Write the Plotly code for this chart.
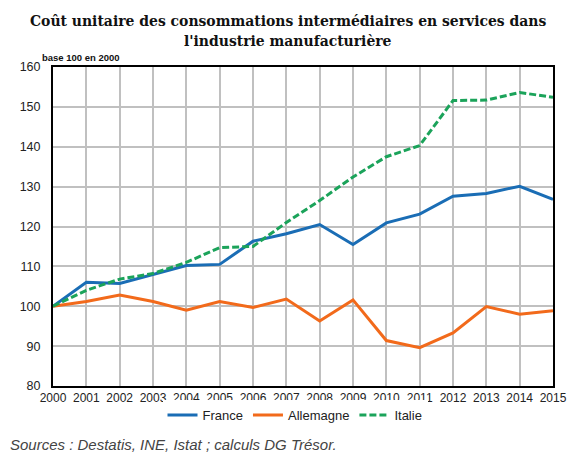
import plotly.graph_objects as go

years = list(range(2000, 2016))
france = [100, 106.0, 105.7, 108.0, 110.2, 110.5, 116.3, 118.2, 120.5, 115.5, 120.9, 123.1, 127.6, 128.3, 130.1, 126.8]
allemagne = [100, 101.2, 102.8, 101.2, 99.0, 101.2, 99.7, 101.8, 96.3, 101.6, 91.4, 89.6, 93.3, 99.9, 98.0, 98.9]
italie = [100, 104.0, 106.8, 108.2, 111.0, 114.7, 115.0, 121.0, 126.5, 132.4, 137.5, 140.3, 151.6, 151.7, 153.6, 152.4]

title_lines = ["Coût unitaire des consommations intermédiaires en services dans",
               "l'industrie manufacturière"]

fig = go.Figure()
fig.add_trace(go.Scatter(x=years, y=france, name="France", mode="lines",
                         line=dict(color="#1A6DB5", width=3)))
fig.add_trace(go.Scatter(x=years, y=allemagne, name="Allemagne", mode="lines",
                         line=dict(color="#F26A1B", width=3)))
fig.add_trace(go.Scatter(x=years, y=italie, name="Italie", mode="lines",
                         line=dict(color="#1BA35A", width=3, dash="7px,3px")))

fig.add_shape(type="line", xref="paper", yref="y", x0=0, x1=1, y0=100, y1=100,
              line=dict(color="black", width=1.2), layer="below")

fig.update_layout(
    width=578, height=468,
    margin=dict(l=39, r=33, t=59, b=90),
    paper_bgcolor="white", plot_bgcolor="white",
    font=dict(family="Liberation Sans, Arial", size=12, color="#222"),
    showlegend=True,
    legend=dict(orientation="h", x=0.484, xanchor="center", y=-0.044, yanchor="top",
                font=dict(size=13, color="#222"), itemwidth=30, tracegroupgap=0),
    xaxis=dict(range=[2000, 2015], tickmode="array", tickvals=years,
               ticktext=[str(y) for y in years], showgrid=True, gridcolor="#C0C0C0",
               gridwidth=2, showline=True, linecolor="black", linewidth=2, mirror=True,
               ticks="", zeroline=False, tickfont=dict(size=12, color="#222")),
    yaxis=dict(range=[80, 160], dtick=10, showgrid=True, gridcolor="#C0C0C0",
               gridwidth=2, showline=True, linecolor="black", linewidth=2, mirror=True,
               ticks="", zeroline=False, ticklabelstandoff=8,
               tickfont=dict(size=12.5, color="#222")),
)

for i, line in enumerate(title_lines):
    fig.add_annotation(text="<b>" + line + "</b>", xref="paper", yref="paper",
                       x=0.47, y=1.147 - i * 0.063, xanchor="center", yanchor="middle",
                       showarrow=False,
                       font=dict(family="DejaVu Serif Condensed, Liberation Serif", size=15.5, color="#111"))

fig.add_annotation(text="<b>base 100 en 2000</b>", xref="paper", yref="paper",
                   x=-0.026, y=1.0, xanchor="left", yanchor="bottom", showarrow=False,
                   align="left", font=dict(size=9.5, color="#111"), yshift=2)
fig.add_annotation(text="<i>Sources : Destatis, INE, Istat ; calculs DG Trésor.</i>",
                   xref="paper", yref="paper", x=-0.091, y=-0.15, xanchor="left",
                   yanchor="top", showarrow=False, align="left",
                   font=dict(size=15, color="#444"))

fig.write_html("out.html")
